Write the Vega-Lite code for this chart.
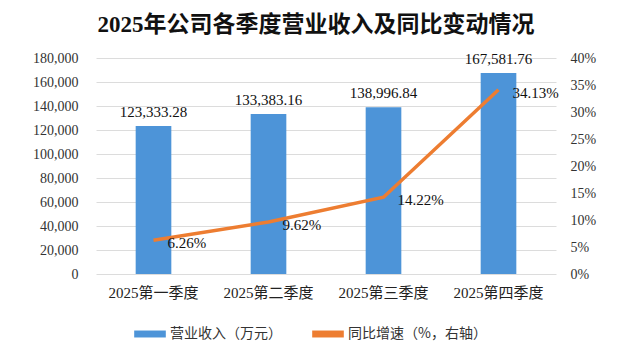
{
  "$schema": "https://vega.github.io/schema/vega-lite/v6.json",
  "width": 460,
  "height": 216,
  "autosize": {"type": "none"},
  "padding": {"left": 96, "top": 58, "right": 84, "bottom": 79},
  "background": "#ffffff",
  "title": {
    "text": "2025年公司各季度营业收入及同比变动情况",
    "font": "'Liberation Serif', 'Noto Sans CJK SC'",
    "fontSize": 23,
    "fontWeight": "bold",
    "color": "#111111",
    "anchor": "middle",
    "frame": "group",
    "offset": 14,
    "dx": -10
  },
  "config": {
    "view": {"stroke": null},
    "font": "'Liberation Serif', 'Noto Sans CJK SC'",
    "style": {"guide-label": {"font": "'Liberation Serif', 'Noto Sans CJK SC'"}},
    "axisLeft": {"labelFont": "'Liberation Serif', 'Times New Roman', serif"},
    "axisRight": {"labelFont": "'Liberation Serif', 'Times New Roman', serif"}
  },
  "data": {
    "values": [
      {"q": "2025第一季度", "rev": 123333.28, "rate": 0.0626},
      {"q": "2025第二季度", "rev": 133383.16, "rate": 0.0962},
      {"q": "2025第三季度", "rev": 138996.84, "rate": 0.1422},
      {"q": "2025第四季度", "rev": 167581.76, "rate": 0.3413}
    ]
  },
  "encoding": {
    "x": {
      "field": "q", "type": "nominal", "sort": null, "title": null,
      "scale": {"paddingInner": 0.69, "paddingOuter": 0.345},
      "axis": {"labelAngle": 0, "domain": false, "ticks": false, "labelFontSize": 15, "labelColor": "#222222", "labelPadding": 11, "labelFont": "'Liberation Serif', 'Noto Sans CJK SC'"}
    }
  },
  "layer": [
    {
      "encoding": {
        "y": {
          "field": "rev", "type": "quantitative", "title": null,
          "scale": {"domain": [0, 180000]},
          "axis": {"values": [0, 20000, 40000, 60000, 80000, 100000, 120000, 140000, 160000, 180000], "format": ",.0f", "labelOverlap": false, "domain": false, "ticks": false, "labelFont": "'Liberation Serif', 'Times New Roman', serif", "labelFontSize": 14, "labelColor": "#333333", "labelPadding": 18, "gridColor": "#dcdcdc", "gridWidth": 1}
        }
      },
      "layer": [
        {
          "mark": {"type": "bar", "color": "#4d94d8"},
          "encoding": {
            "color": {"datum": "营业收入（万元）", "type": "nominal",
              "scale": {"domain": ["营业收入（万元）", "同比增速（%，右轴）"], "range": ["#4d94d8", "#ed7d31"]},
              "legend": {
                "orient": "none", "legendX": 38, "legendY": 260, "direction": "horizontal",
                "title": null, "symbolType": "M-1,-0.22H1V0.22H-1Z", "symbolSize": 1000,
                "symbolStrokeWidth": 0,
                "labelFont": "Noto Sans CJK SC", "labelFontSize": 14, "labelColor": "#333333",
                "labelOffset": 4, "columnPadding": 30
              }
            }
          }
        },
        {
          "mark": {"type": "text", "baseline": "alphabetic", "dy": -9, "fontSize": 15, "color": "#111111"},
          "encoding": {
            "text": {"field": "rev", "type": "quantitative", "format": ",.2f"}
          }
        }
      ]
    },
    {
      "encoding": {
        "y": {
          "field": "rate", "type": "quantitative", "title": null,
          "scale": {"domain": [0, 0.4]},
          "axis": {"orient": "right", "values": [0, 0.05, 0.1, 0.15, 0.2, 0.25, 0.3, 0.35, 0.4], "format": ".0%", "labelOverlap": false, "domain": false, "ticks": false, "grid": false, "labelFont": "'Liberation Serif', 'Times New Roman', serif", "labelFontSize": 14, "labelColor": "#333333", "labelPadding": 14}
        }
      },
      "layer": [
        {
          "mark": {"type": "line", "strokeWidth": 3.5, "color": "#ed7d31"},
          "encoding": {
            "color": {"datum": "同比增速（%，右轴）", "type": "nominal"}
          }
        },
        {
          "mark": {"type": "text", "align": "left", "baseline": "middle", "dx": 14, "dy": 3, "fontSize": 15, "color": "#111111"},
          "encoding": {
            "text": {"field": "rate", "type": "quantitative", "format": ".2%"}
          }
        }
      ]
    }
  ],
  "resolve": {"scale": {"y": "independent"}}
}
